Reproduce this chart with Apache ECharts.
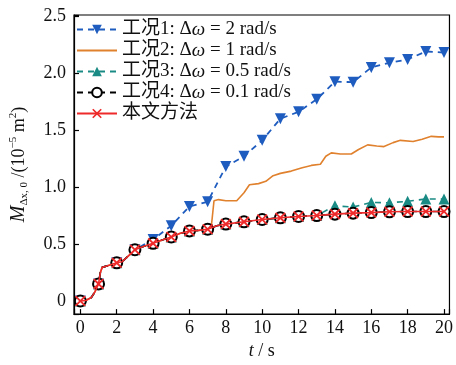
<!DOCTYPE html>
<html>
<head>
<meta charset="utf-8">
<script src="https://cdn.jsdelivr.net/npm/echarts@6/dist/echarts.min.js"></script>
<style>
	html, body { margin: 0; padding: 0; background: #fff; }
	#chart01 { width: 456px; height: 365px; }
</style>
</head>
<body>
<div id="chart01"></div>
<script>
// 시간축(정수 s)
const tInt = [0, 1, 2, 3, 4, 5, 6, 7, 8, 9, 10, 11, 12, 13, 14, 15, 16, 17, 18, 19, 20];

// 工况1: Δω = 2 rad/s (t >= 3 구간)
const case1 = [0, 0.15, 0.335, 0.45, 0.54, 0.66, 0.83, 0.87, 1.18, 1.27, 1.41, 1.60, 1.66, 1.77, 1.925, 1.92, 2.05, 2.09, 2.12, 2.19, 2.18];
// 工况3: Δω = 0.5 rad/s (t >= 13 구간)
const case3 = [0, 0.15, 0.335, 0.45, 0.506, 0.562, 0.615, 0.63, 0.675, 0.695, 0.715, 0.73, 0.742, 0.75, 0.835, 0.825, 0.865, 0.862, 0.875, 0.895, 0.895];

// 工况2: Δω = 1 rad/s (마커 없는 실선, t >= 7 구간)
const case2T = [7, 7.2, 7.35, 7.6, 8, 8.6, 9, 9.3, 9.8, 10.2, 10.6, 11, 11.6, 12.2, 12.7, 13.2, 13.5, 13.8, 14.3, 14.9, 15.3, 15.8, 16.3, 16.7, 17.2, 17.6, 18.3, 18.8, 19.3, 19.7, 20];
const case2V = [0.63, 0.65, 0.88, 0.89, 0.88, 0.88, 0.95, 1.02, 1.03, 1.05, 1.10, 1.12, 1.14, 1.17, 1.19, 1.20, 1.27, 1.30, 1.29, 1.29, 1.33, 1.37, 1.36, 1.355, 1.39, 1.41, 1.40, 1.42, 1.445, 1.44, 1.44];

// 本文方法 / 工况4 공통 곡선 (정수 시점에만 마커)
const methodT = [0, 0.3, 0.6, 0.8, 1, 1.1, 1.2, 1.5, 2, 2.3, 2.6, 3, 3.5, 4, 4.5, 5, 5.5, 6, 6.5, 7, 7.5, 8, 9, 10, 11, 12, 13, 14, 15, 16, 17, 18, 19, 20];
const methodV = [0, 0.005, 0.03, 0.08, 0.15, 0.25, 0.295, 0.31, 0.335, 0.345, 0.39, 0.45, 0.48, 0.506, 0.535, 0.562, 0.595, 0.615, 0.62, 0.63, 0.66, 0.675, 0.695, 0.715, 0.73, 0.742, 0.75, 0.762, 0.771, 0.776, 0.783, 0.785, 0.785, 0.785];

const legendNames = ['工况1', '工况2', '工况3', '工况4', '本文方法'];
const legendLabels = ['工况1: Δ{i|ω} = 2 rad/s', '工况2: Δ{i|ω} = 1 rad/s', '工况3: Δ{i|ω} = 0.5 rad/s', '工况4: Δ{i|ω} = 0.1 rad/s', '本文方法'];

const FONT = "'Liberation Serif', 'Noto Sans CJK SC', serif";
const X_SYMBOL = 'path://M0,1.2 L1.2,0 L5,3.8 L8.8,0 L10,1.2 L6.2,5 L10,8.8 L8.8,10 L5,6.2 L1.2,10 L0,8.8 L3.8,5 Z';

// 공통 곡선의 앞부분(t < from) + 해당 工况 정수점(t >= from)
function joinCurve(from, values) {
	const head = methodT.map((t, i) => [t, methodV[i]]).filter(p => p[0] < from);
	const tail = tInt.map((t, i) => [t, values[i]]).filter(p => p[0] >= from);
	return head.concat(tail);
}
const baseCurve = methodT.map((t, i) => [t, methodV[i]]);
const case2Curve = baseCurve.filter(p => p[0] < 7).concat(case2T.map((t, i) => [t, case2V[i]]));
const markAtInt = size => (val => Number.isInteger(val[0]) ? size : 0);

const option = {
	animation: false,
	grid: {
		left: 73, top: 15, right: 4, bottom: 43,
		show: true, borderColor: '#000', borderWidth: 1.2,
	},
	legend: {
		orient: 'vertical',
		left: 76, top: 19,
		padding: 0,
		itemGap: 0,
		itemWidth: 40,
		itemHeight: 12,
		data: [
			'工况1',
			{ name: '工况2', itemStyle: { opacity: 0 } },
			'工况3',
			'工况4',
			'本文方法',
		],
		formatter: function(name) {
			return legendLabels[legendNames.indexOf(name)];
		},
		textStyle: {
			fontFamily: FONT, fontSize: 19, color: '#111', lineHeight: 21,
			rich: {
				i: { fontFamily: FONT, fontSize: 19, fontStyle: 'italic', color: '#111', lineHeight: 21 },
			},
		},
	},
	xAxis: {
		type: 'value',
		min: -0.35, max: 20.3,
		splitNumber: 10, minInterval: 2, maxInterval: 2,
		name: '{i|t} / s',
		nameLocation: 'middle',
		nameGap: 27,
		nameTextStyle: {
			fontFamily: FONT, fontSize: 18, color: '#111',
			rich: { i: { fontFamily: FONT, fontSize: 18, fontStyle: 'italic', color: '#111' } },
		},
		axisLine: { show: true, onZero: false, lineStyle: { color: '#000', width: 1.2 } },
		axisTick: { show: true, inside: true, length: 5, lineStyle: { color: '#000', width: 1.2 } },
		splitLine: { show: false },
		axisLabel: {
			fontFamily: FONT, fontSize: 18, color: '#111', margin: 5,
			formatter: function(v) {
				return Number.isInteger(v) ? String(v) : '';
			},
		},
	},
	yAxis: {
		type: 'value',
		min: -0.115, max: 2.51,
		splitNumber: 5, minInterval: 0.5, maxInterval: 0.5,
		name: '{m|M}{sub|Δx, 0}{n| /(10}{sup|−5}{n| m}{sup|2}{n|)}',
		nameLocation: 'middle',
		nameGap: 44,
		nameTextStyle: {
			fontFamily: FONT, fontSize: 18, color: '#111',
			rich: {
				m: { fontFamily: FONT, fontSize: 20, fontStyle: 'italic', color: '#111', lineHeight: 22 },
				n: { fontFamily: FONT, fontSize: 18, color: '#111', lineHeight: 22 },
				sub: { fontFamily: FONT, fontSize: 11, color: '#111', lineHeight: 12, verticalAlign: 'bottom' },
				sup: { fontFamily: FONT, fontSize: 11, color: '#111', lineHeight: 12, verticalAlign: 'top' },
			},
		},
		axisLine: { show: true, onZero: false, lineStyle: { color: '#000', width: 1.2 } },
		axisTick: { show: true, inside: true, length: 5, lineStyle: { color: '#000', width: 1.2 } },
		splitLine: { show: false },
		axisLabel: {
			fontFamily: FONT, fontSize: 18, color: '#111', margin: 8,
			formatter: function(v) {
				const r = Math.round(v * 2) / 2;
				if(Math.abs(r - v) > 1e-6 || v < 0) return '';
				return r === 0 ? '0' : r.toFixed(1);
			},
		},
	},
	series: [
		{
			name: '工况1',
			type: 'line',
			data: joinCurve(3, case1),
			symbol: 'triangle', symbolRotate: 180, symbolSize: markAtInt(11),
			showAllSymbol: true,
			itemStyle: { color: '#1f5cbf' },
			lineStyle: { color: '#1f5cbf', width: 1.8, type: [6, 5] },
			z: 2,
		},
		{
			name: '工况2',
			type: 'line',
			data: case2Curve,
			showSymbol: false,
			itemStyle: { color: '#e0812e' },
			lineStyle: { color: '#e0812e', width: 1.6 },
			z: 2,
		},
		{
			name: '工况3',
			type: 'line',
			data: joinCurve(13, case3),
			symbol: 'triangle', symbolSize: markAtInt(11),
			showAllSymbol: true,
			itemStyle: { color: '#1a8b84' },
			lineStyle: { color: '#1a8b84', width: 1.6, type: [6, 5] },
			z: 2,
		},
		{
			name: '工况4',
			type: 'line',
			data: baseCurve,
			symbol: 'emptyCircle', symbolSize: markAtInt(11),
			showAllSymbol: true,
			itemStyle: { color: '#000', borderWidth: 1.8 },
			lineStyle: { color: '#000', width: 1.6, type: [6, 5] },
			z: 3,
		},
		{
			name: '本文方法',
			type: 'line',
			data: baseCurve,
			symbol: X_SYMBOL, symbolSize: markAtInt(11),
			showAllSymbol: true,
			itemStyle: { color: '#ee2a2a' },
			lineStyle: { color: '#ee2a2a', width: 1.6 },
			z: 4,
		},
	],
};

const myChart = echarts.init(document.getElementById('chart01'), null, { renderer: 'canvas' });
myChart.setOption(option);
window.addEventListener('resize', myChart.resize);
</script>
</body>
</html>
